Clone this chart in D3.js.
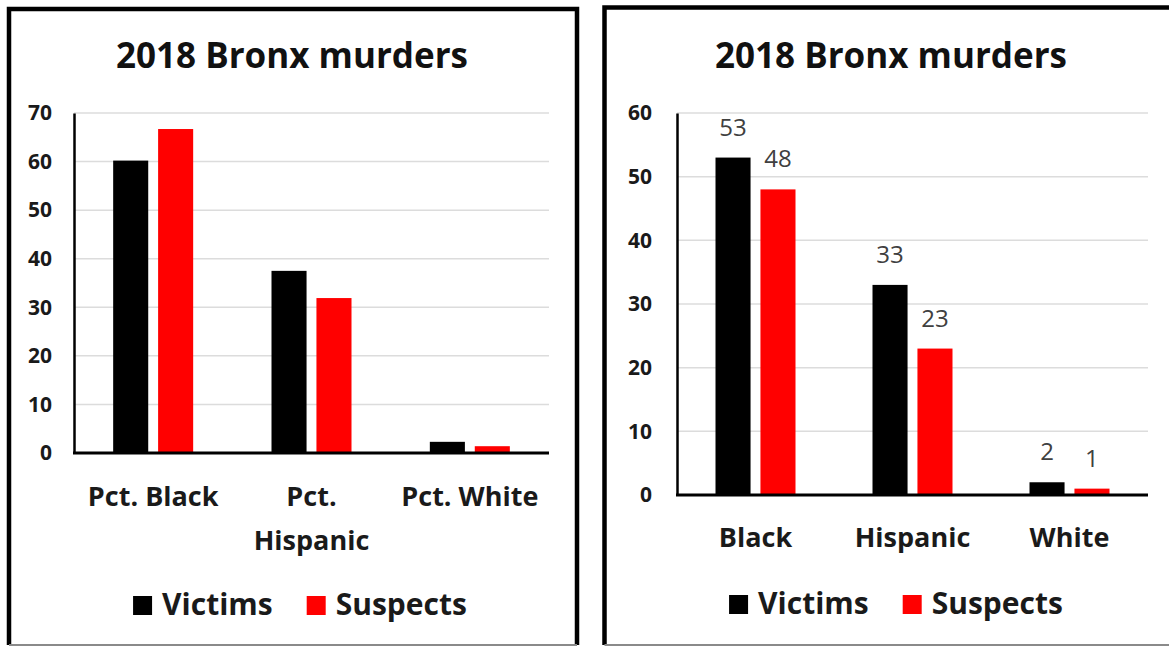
<!DOCTYPE html>
<html><head><meta charset="utf-8">
<script src="https://cdn.jsdelivr.net/npm/d3@7"></script>
<style>
body{margin:0;background:#fff;}
svg{display:block;}
text{font-family:"Open Sans","Noto Sans",sans-serif;}
</style>
</head><body>
<svg id="chart" width="1169" height="647"></svg>
<script>
// ---- data ----
const chartTitle = "2018 Bronx murders";
const seriesNames = ["Victims", "Suspects"];
const seriesColors = ["#000000", "#ff0000"];

const pctCategories = [["Pct. Black"], ["Pct.", "Hispanic"], ["Pct. White"]];
const pctVictims = [60.2, 37.5, 2.3];
const pctSuspects = [66.7, 31.9, 1.4];
const pctTicks = [0, 10, 20, 30, 40, 50, 60, 70];

const countCategories = [["Black"], ["Hispanic"], ["White"]];
const countVictims = [53, 33, 2];
const countSuspects = [48, 23, 1];
const countTicks = [0, 10, 20, 30, 40, 50, 60];

// ---- drawing ----
const svg = d3.select("#chart");
svg.append("rect").attr("width", 1169).attr("height", 647).attr("fill", "#fff");

function drawPanel(cfg) {
  const g = svg.append("g");
  const b = cfg.box;
  // panel border
  g.append("path")
    .attr("d", `M${b.x},${b.y + b.h} V${b.y} H${b.x + b.w} V${b.y + b.h}`)
    .attr("fill", "none").attr("stroke", "#000").attr("stroke-width", 4.5);
  g.append("line")
    .attr("x1", b.x).attr("x2", b.x + b.w).attr("y1", b.y + b.h).attr("y2", b.y + b.h)
    .attr("stroke", "#8a8a8a").attr("stroke-width", 2);

  // title
  g.append("text").attr("x", cfg.titleX).attr("y", cfg.titleY)
    .attr("text-anchor", "middle").attr("font-size", 35).attr("font-weight", 700)
    .attr("fill", "#111").text(chartTitle);

  const p = cfg.plot;
  const y = d3.scaleLinear().domain([0, d3.max(cfg.ticks)]).range([p.bottom, p.top]);
  const x0 = d3.scaleBand().domain(d3.range(cfg.categories.length)).range([p.left, p.right]).padding(0);
  const groupW = 80;
  const x1 = d3.scaleBand().domain(seriesNames).range([0, groupW]).paddingInner(0.22).paddingOuter(0);

  // gridlines
  g.append("g").selectAll("line").data(cfg.ticks.filter(t => t > 0)).join("line")
    .attr("x1", p.left).attr("x2", p.right)
    .attr("y1", d => y(d)).attr("y2", d => y(d))
    .attr("stroke", "#dcdcdc").attr("stroke-width", 1.5);

  // y axis
  const yAxis = g.append("g").attr("transform", `translate(${p.left},0)`)
    .call(d3.axisLeft(y).tickValues(cfg.ticks).tickSize(0).tickPadding(cfg.tickPad).tickFormat(d3.format("d")));
  yAxis.select(".domain").attr("stroke", "#000").attr("stroke-width", 2.5);
  yAxis.selectAll("text").attr("font-size", 21).attr("font-weight", 700)
    .attr("fill", "#1a1a1a").attr("font-family", '"Open Sans","Noto Sans",sans-serif');

  // bars
  const rows = cfg.categories.map((c, i) => ({ i, values: [cfg.victims[i], cfg.suspects[i]] }));
  const grp = g.append("g").selectAll("g").data(rows).join("g")
    .attr("transform", d => `translate(${x0(d.i) + (x0.bandwidth() - groupW) / 2},0)`);
  grp.selectAll("rect").data(d => d.values.map((v, k) => ({ v, k }))).join("rect")
    .attr("x", d => x1(seriesNames[d.k]))
    .attr("width", x1.bandwidth())
    .attr("y", d => y(d.v))
    .attr("height", d => y(0) - y(d.v))
    .attr("fill", d => seriesColors[d.k]);
  if (cfg.dataLabels) {
    grp.selectAll("text.dl").data(d => d.values.map((v, k) => ({ v, k }))).join("text")
      .attr("class", "dl")
      .attr("x", d => x1(seriesNames[d.k]) + x1.bandwidth() / 2)
      .attr("y", d => y(d.v) - 22)
      .attr("text-anchor", "middle").attr("font-size", 24).attr("fill", "#404040")
      .text(d => d.v);
  }

  // x baseline
  g.append("line").attr("x1", p.left - 1).attr("x2", p.right)
    .attr("y1", y(0)).attr("y2", y(0)).attr("stroke", "#000").attr("stroke-width", 3);

  // category labels
  cfg.categories.forEach((lines, i) => {
    const t = g.append("text").attr("text-anchor", "middle")
      .attr("font-size", 27).attr("font-weight", 700).attr("fill", "#1a1a1a");
    lines.forEach((ln, j) => {
      t.append("tspan").attr("x", x0(i) + x0.bandwidth() / 2)
        .attr("y", cfg.xLabelY + j * cfg.lineH).text(ln);
    });
  });

  // legend
  const lg = g.append("g");
  const sq = 19, gapSqText = 10, gapItems = 34;
  let cx = 0;
  seriesNames.forEach((s, k) => {
    const r = lg.append("rect").attr("width", sq).attr("height", sq)
      .attr("y", cfg.legendY - sq).attr("fill", seriesColors[k]);
    const t = lg.append("text").attr("y", cfg.legendY).attr("font-size", 30)
      .attr("font-weight", 700).attr("fill", "#1a1a1a").text(s);
    const w = t.node().getComputedTextLength();
    r.attr("x", cx);
    t.attr("x", cx + sq + gapSqText);
    cx += sq + gapSqText + w + gapItems;
  });
  const totalW = cx - gapItems;
  lg.attr("transform", `translate(${cfg.legendCX - totalW / 2},0)`);
}

drawPanel({
  box: { x: 9, y: 9, w: 568, h: 636 },
  titleX: 292, titleY: 68,
  plot: { left: 74, right: 549, top: 113, bottom: 453 },
  ticks: pctTicks, tickPad: 22,
  categories: pctCategories, victims: pctVictims, suspects: pctSuspects,
  dataLabels: false,
  xLabelY: 506, lineH: 44,
  legendY: 615, legendCX: 300
});

drawPanel({
  box: { x: 604.5, y: 7.5, w: 580, h: 637.5 },
  titleX: 891, titleY: 68,
  plot: { left: 677, right: 1148, top: 113, bottom: 495 },
  ticks: countTicks, tickPad: 25,
  categories: countCategories, victims: countVictims, suspects: countSuspects,
  dataLabels: true,
  xLabelY: 547, lineH: 44,
  legendY: 614, legendCX: 896
});
</script>
</body></html>
